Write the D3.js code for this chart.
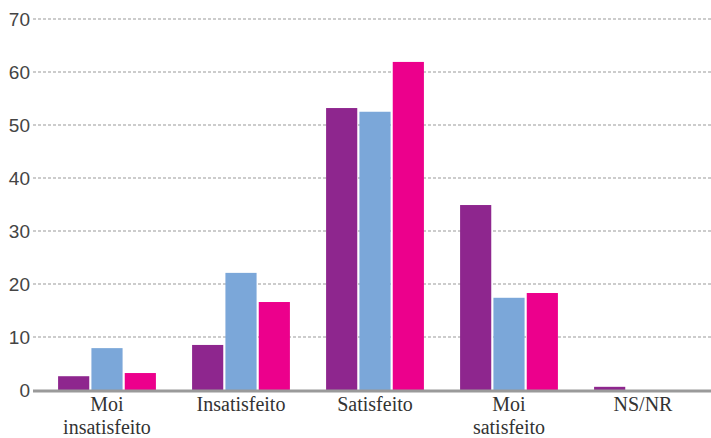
<!DOCTYPE html>
<html><head><meta charset="utf-8">
<script src="https://cdn.jsdelivr.net/npm/d3@7"></script>
<style>body{margin:0;background:#fff}svg{display:block}</style>
</head><body><svg id="c" width="711" height="438"></svg>
<script>
const categories = [["Moi","insatisfeito"],["Insatisfeito"],["Satisfeito"],["Moi","satisfeito"],["NS/NR"]];
const seriesA = [2.6, 8.5, 53.2, 34.9, 0.6];
const seriesB = [7.9, 22.1, 52.5, 17.4, 0];
const seriesC = [3.2, 16.6, 61.9, 18.3, 0];
const yTicks = [0,10,20,30,40,50,60,70];
const colors = ["#8E268E","#7BA7D9","#EC008C"];
const series = [seriesA, seriesB, seriesC];

const svg = d3.select("#c");
const W = 711, H = 438;
const x = d3.scaleBand().domain(d3.range(categories.length)).range([40, 710]).paddingInner(0.27).paddingOuter(0.135);
const xs = d3.scaleBand().domain([0,1,2]).range([0, x.bandwidth()]).paddingInner(0.065);
const y = d3.scaleLinear().domain([0,70]).range([390, 19]);

// gridlines
const grid = svg.append("g");
grid.selectAll("line").data(yTicks.filter(d=>d>0)).join("line")
  .attr("x1", 33).attr("x2", W).attr("y1", d=>y(d)).attr("y2", d=>y(d))
  .attr("stroke", "#999").attr("stroke-width", 1).attr("stroke-dasharray", "3,2");

// y axis labels
const yAxis = svg.append("g").attr("transform","translate(31,0)")
  .call(d3.axisLeft(y).tickValues(yTicks).tickSize(0).tickPadding(1));
yAxis.select(".domain").remove();
yAxis.selectAll("text").attr("font-family","'Liberation Sans', sans-serif").attr("font-size",19).attr("fill","#444").attr("dy","0.34em");

// bars
const groups = svg.append("g").selectAll("g").data(categories).join("g")
  .attr("transform",(d,i)=>`translate(${x(i)},0)`);
groups.selectAll("rect").data((d,i)=>series.map((s,j)=>({v:s[i], j}))).join("rect")
  .attr("x", d=>xs(d.j)).attr("width", xs.bandwidth())
  .attr("y", d=>y(d.v)).attr("height", d=>y(0)-y(d.v))
  .attr("fill", d=>colors[d.j]);

// baseline
svg.append("line").attr("x1",33).attr("x2",W).attr("y1",y(0)+1).attr("y2",y(0)+1)
  .attr("stroke","#9a9a9a").attr("stroke-width",3);

// x labels
const xl = svg.append("g");
categories.forEach((lines,i)=>{
  lines.forEach((ln,k)=>xl.append("text")
    .attr("x", x(i)+x.bandwidth()/2).attr("y", 411 + k*22.5)
    .attr("text-anchor","middle").attr("font-family","'Liberation Serif', serif")
    .attr("font-size",20).attr("fill","#333").text(ln));
});
</script></body></html>
